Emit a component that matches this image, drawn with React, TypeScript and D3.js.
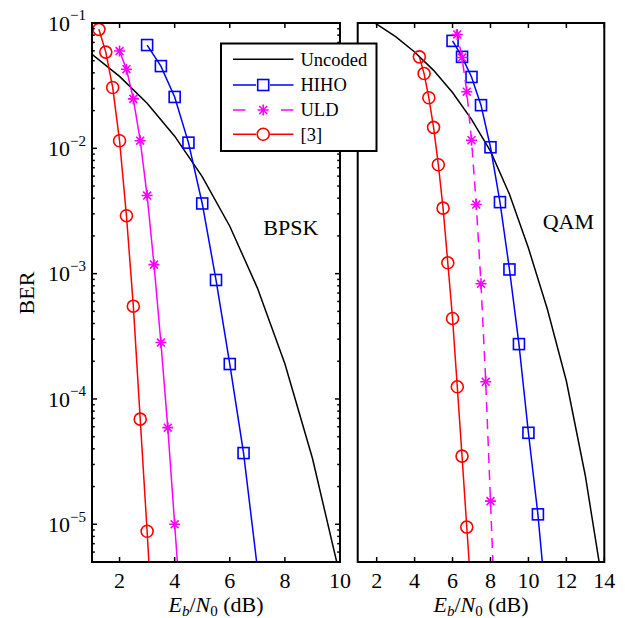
import React from "react";
import * as d3 from "d3";

// ---------- data ----------
const bpskSnr = [1, 2, 3, 4, 5, 6, 7, 8, 9, 10];
const bpskUncoded = [0.0563, 0.0375, 0.0229, 0.0125, 0.00595, 0.00239, 7.7e-4, 1.91e-4, 3.36e-5, 3.87e-6];
const bpskHihoSnr = [3, 3.5, 4, 4.5, 5, 5.5, 6, 6.5, 7];
const bpskHiho = [0.0667, 0.0453, 0.0257, 0.0111, 0.00363, 8.9e-4, 1.9e-4, 3.7e-5, 4.5e-6];
const bpskUldSnr = [2, 2.25, 2.5, 2.75, 3, 3.25, 3.5, 3.75, 4, 4.25];
const bpskUld = [0.0597, 0.0428, 0.0248, 0.0115, 0.0042, 0.00118, 2.82e-4, 5.9e-5, 1.0e-5, 1.7e-6];
const bpskRefSnr = [1.25, 1.5, 1.75, 2, 2.25, 2.5, 2.75, 3, 3.25];
const bpskRef = [0.089, 0.0586, 0.0306, 0.0115, 0.0029, 5.5e-4, 6.9e-5, 8.8e-6, 1e-6];

const qamSnr = [1, 2, 3, 4, 5, 6, 7, 8, 9, 10, 11, 12, 13, 14];
const qamUncoded = [0.118, 0.098, 0.0778, 0.0587, 0.0419, 0.0279, 0.017, 0.0095, 0.0043, 0.0016, 5.2e-4, 1.39e-4, 2.44e-5, 2.76e-6];
const qamHihoSnr = [6, 6.5, 7, 7.5, 8, 8.5, 9, 9.5, 10, 10.5, 11];
const qamHiho = [0.072, 0.0537, 0.0371, 0.0221, 0.0102, 0.00372, 0.00108, 2.74e-4, 5.37e-5, 1.2e-5, 1.8e-6];
const qamUldSnr = [6, 6.25, 6.5, 6.75, 7, 7.25, 7.5, 7.75, 8, 8.25];
const qamUld = [0.12, 0.081, 0.053, 0.0283, 0.0116, 0.00356, 8.3e-4, 1.37e-4, 1.53e-5, 1.7e-6];
const qamRefSnr = [4.25, 4.5, 4.75, 5, 5.25, 5.5, 5.75, 6, 6.25, 6.5, 6.75, 7];
const qamRef = [0.0537, 0.0395, 0.0253, 0.0147, 0.0074, 0.00333, 0.00122, 4.39e-4, 1.25e-4, 3.5e-5, 9.5e-6, 2.6e-6];

const bpskXTicks = [2, 4, 6, 8, 10];
const qamXTicks = [2, 4, 6, 8, 10, 12, 14];
const yTickExps = [-1, -2, -3, -4, -5];
const legendLabels = ["Uncoded", "HIHO", "ULD", "[3]"];

// ---------- layout ----------
const W = 625;
const H = 618;
const TOP = 23;
const BOTTOM = 562;
const FONT = "'Liberation Serif', 'Times New Roman', serif";
const BLUE = "#0000ff";
const MAG = "#ff00ff";
const RED = "#ff0000";

const yScale = d3.scaleLog().domain([5e-6, 0.1]).range([BOTTOM, TOP]);

type Series = { x: number[]; y: number[]; color: string; marker: string; dash?: string };

function Marker({ type, x, y, color }: { type: string; x: number; y: number; color: string }) {
  if (type === "square")
    return <rect x={x - 5.5} y={y - 5.5} width={11} height={11} fill="none" stroke={color} strokeWidth={1.6} />;
  if (type === "circle") return <circle cx={x} cy={y} r={6} fill="none" stroke={color} strokeWidth={1.6} />;
  if (type === "star") {
    const s = 5.5;
    const d = s * 0.72;
    return (
      <path
        d={`M${x - s},${y}L${x + s},${y}M${x},${y - s}L${x},${y + s}M${x - d},${y - d}L${x + d},${y + d}M${x - d},${y + d}L${x + d},${y - d}`}
        stroke={color}
        strokeWidth={1.6}
        fill="none"
      />
    );
  }
  return null;
}

function Panel({
  id,
  x0,
  x1,
  xMax,
  xTicks,
  series,
  yTicks,
  label,
  labelX,
  labelY,
}: {
  id: string;
  x0: number;
  x1: number;
  xMax: number;
  xTicks: number[];
  series: Series[];
  yTicks: boolean;
  label: string;
  labelX: number;
  labelY: number;
}) {
  const xScale = d3.scaleLinear().domain([1, xMax]).range([x0, x1]);
  const line = d3.line<[number, number]>().x((d) => xScale(d[0])).y((d) => yScale(d[1]));
  const minor: number[] = [];
  for (let e = -6; e <= -2; e++) for (let m = 2; m <= 9; m++) {
    const v = m * Math.pow(10, e);
    if (v >= 5e-6 && v <= 0.1) minor.push(v);
  }
  const cx = (x0 + x1) / 2;
  return (
    <g>
      <defs>
        <clipPath id={id}>
          <rect x={x0} y={TOP} width={x1 - x0} height={BOTTOM - TOP} />
        </clipPath>
      </defs>
      <rect x={x0} y={TOP} width={x1 - x0} height={BOTTOM - TOP} fill="#fff" />
      <g clipPath={`url(#${id})`}>
        {series.map((s, i) => (
          <g key={i}>
            <path
              d={line(s.x.map((v, j) => [v, s.y[j]] as [number, number])) || ""}
              fill="none"
              stroke={s.color}
              strokeWidth={1.5}
              strokeDasharray={s.dash}
            />
            {s.marker !== "none" &&
              s.x.map((v, j) => <Marker key={j} type={s.marker} x={xScale(v)} y={yScale(s.y[j])} color={s.color} />)}
          </g>
        ))}
      </g>
      {/* x ticks */}
      {xTicks.map((t) => (
        <g key={t}>
          <line x1={xScale(t)} x2={xScale(t)} y1={BOTTOM} y2={BOTTOM - 5} stroke="#000" strokeWidth={1.5} />
          <line x1={xScale(t)} x2={xScale(t)} y1={TOP} y2={TOP + 5} stroke="#000" strokeWidth={1.5} />
          <text x={xScale(t)} y={587.5} textAnchor="middle" fontFamily={FONT} fontSize={22}>
            {t}
          </text>
        </g>
      ))}
      {yTicks &&
        yTickExps.map((e) => {
          const y = yScale(Math.pow(10, e));
          return (
            <g key={e}>
              <line x1={x0} x2={x0 + 5} y1={y} y2={y} stroke="#000" strokeWidth={1.5} />
              <line x1={x1} x2={x1 - 5} y1={y} y2={y} stroke="#000" strokeWidth={1.5} />
              <text x={86} y={y + 7.8} textAnchor="end" fontFamily={FONT} fontSize={22}>
                <tspan>10</tspan>
                <tspan fontSize={15} dy={-10.5}>
                  {"\u2212" + Math.abs(e)}
                </tspan>
              </text>
            </g>
          );
        })}
      {yTicks &&
        minor.map((v, i) => {
          const y = yScale(v);
          return (
            <g key={i}>
              <line x1={x0} x2={x0 + 2.8} y1={y} y2={y} stroke="#000" strokeWidth={1.5} />
              <line x1={x1} x2={x1 - 2.8} y1={y} y2={y} stroke="#000" strokeWidth={1.5} />
            </g>
          );
        })}
      <rect x={x0} y={TOP} width={x1 - x0} height={BOTTOM - TOP} fill="none" stroke="#000" strokeWidth={2} />
      <text x={labelX} y={labelY} fontFamily={FONT} fontSize={22}>
        {label}
      </text>
      <text x={cx} y={611.5} textAnchor="middle" fontFamily={FONT} fontSize={22}>
        <tspan fontStyle="italic">E</tspan>
        <tspan fontStyle="italic" fontSize={15} dy={4}>
          b
        </tspan>
        <tspan dy={-4}>/</tspan>
        <tspan fontStyle="italic">N</tspan>
        <tspan fontSize={15} dy={4}>
          0
        </tspan>
        <tspan dy={-4}>{"\u00a0(dB)"}</tspan>
      </text>
    </g>
  );
}

function Legend() {
  const x0 = 221;
  const y0 = 43.5;
  const w = 155.5;
  const h = 107.5;
  const rows = [59.3, 85, 110, 134.3];
  const colors = ["#000", BLUE, MAG, RED];
  const markers = ["none", "square", "star", "circle"];
  return (
    <g>
      <rect x={x0} y={y0} width={w} height={h} fill="#fff" stroke="#000" strokeWidth={2} />
      {legendLabels.map((lab, i) => (
        <g key={lab}>
          {markers[i] === "star" ? (
            <g>
              <line x1={233} x2={245.5} y1={rows[i]} y2={rows[i]} stroke={colors[i]} strokeWidth={1.5} />
              <line x1={281} x2={293.5} y1={rows[i]} y2={rows[i]} stroke={colors[i]} strokeWidth={1.5} />
            </g>
          ) : (
            <line x1={233} x2={293.5} y1={rows[i]} y2={rows[i]} stroke={colors[i]} strokeWidth={1.5} />
          )}
          {markers[i] !== "none" && (
            <g>
              {markers[i] !== "star" && <rect x={256} y={rows[i] - 6.5} width={14} height={13} fill="#fff" />}
              <Marker type={markers[i]} x={263.2} y={rows[i]} color={colors[i]} />
            </g>
          )}
          <text x={300.5} y={rows[i] + 6.3} fontFamily={FONT} fontSize={18.5}>
            {lab}
          </text>
        </g>
      ))}
    </g>
  );
}

export default function App() {
  const bpskSeries: Series[] = [
    { x: bpskSnr, y: bpskUncoded, color: "#000", marker: "none" },
    { x: bpskHihoSnr, y: bpskHiho, color: BLUE, marker: "square" },
    { x: bpskUldSnr, y: bpskUld, color: MAG, marker: "star" },
    { x: bpskRefSnr, y: bpskRef, color: RED, marker: "circle" },
  ];
  const qamSeries: Series[] = [
    { x: qamSnr, y: qamUncoded, color: "#000", marker: "none" },
    { x: qamHihoSnr, y: qamHiho, color: BLUE, marker: "square" },
    { x: qamUldSnr, y: qamUld, color: MAG, marker: "star", dash: "10,7" },
    { x: qamRefSnr, y: qamRef, color: RED, marker: "circle" },
  ];
  return (
    <svg width={W} height={H} style={{ position: "absolute", left: 0, top: 0, background: "#fff" }}>
      <rect width={W} height={H} fill="#fff" />
      <Panel id="clipL" x0={92} x1={340} xMax={10} xTicks={bpskXTicks} series={bpskSeries} yTicks={true} label="BPSK" labelX={263.3} labelY={235} />
      <Panel id="clipR" x0={357.7} x1={604.3} xMax={14} xTicks={qamXTicks} series={qamSeries} yTicks={false} label="QAM" labelX={542.7} labelY={229.3} />
      <text transform={`translate(33.5,293) rotate(-90)`} textAnchor="middle" fontFamily={FONT} fontSize={22}>
        BER
      </text>
      <Legend />
    </svg>
  );
}
